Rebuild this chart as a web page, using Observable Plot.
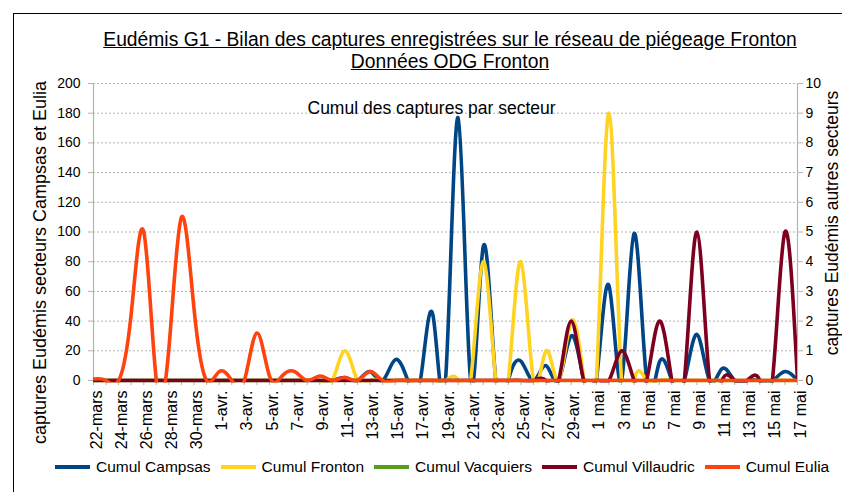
<!DOCTYPE html>
<html><head><meta charset="utf-8">
<script src="https://cdn.jsdelivr.net/npm/d3@7"></script>
<script src="https://cdn.jsdelivr.net/npm/@observablehq/plot@0.6"></script>
<style>
body{margin:0;background:#fff;font-family:"Liberation Sans",Arial,sans-serif;color:#000;}
#wrap{position:relative;width:842px;height:492px;overflow:hidden;background:#fff;}
#frame{position:absolute;left:13px;top:13px;width:840px;height:500px;border:1px solid #000;box-sizing:border-box;}
#title{position:absolute;left:0;top:29px;width:900px;text-align:center;font-size:19.3px;line-height:22px;}
#title span{text-decoration:underline;}
#chart{position:absolute;left:0;top:75px;}
#legend{position:absolute;left:55px;top:458px;display:flex;align-items:center;font-size:15.5px;white-space:nowrap;}
#legend .it{display:flex;align-items:center;margin-right:10px;}
#legend .sw{display:inline-block;width:35px;height:4px;margin-right:6px;}
</style></head>
<body><div id="wrap"><div id="frame"></div>
<div id="title"><span>Eudémis G1 - Bilan des captures enregistrées sur le réseau de piégeage Fronton</span><br><span>Données ODG Fronton</span></div>
<div id="chart"></div><div id="legend"></div></div>
<script>
const dates = ["22-mars","23-mars","24-mars","25-mars","26-mars","27-mars","28-mars","29-mars","30-mars","31-mars",
"1-avr.","2-avr.","3-avr.","4-avr.","5-avr.","6-avr.","7-avr.","8-avr.","9-avr.","10-avr.",
"11-avr.","12-avr.","13-avr.","14-avr.","15-avr.","16-avr.","17-avr.","18-avr.","19-avr.","20-avr.",
"21-avr.","22-avr.","23-avr.","24-avr.","25-avr.","26-avr.","27-avr.","28-avr.","29-avr.","30-avr.",
"1 mai","2 mai","3 mai","4 mai","5 mai","6 mai","7 mai","8 mai","9 mai","10 mai",
"11 mai","12 mai","13 mai","14 mai","15 mai","16 mai","17 mai"];
const labelDates = ["22-mars","24-mars","26-mars","28-mars","30-mars","1-avr.","3-avr.","5-avr.","7-avr.","9-avr.",
"11-avr.","13-avr.","15-avr.","17-avr.","19-avr.","21-avr.","23-avr.","25-avr.","27-avr.","29-avr.",
"1 mai","3 mai","5 mai","7 mai","9 mai","11 mai","13 mai","15 mai","17 mai"];
const leftTicks = [0,20,40,60,80,100,120,140,160,180,200];
const rightTicks = [0,1,2,3,4,5,6,7,8,9,10];
const seriesNames = ["Cumul Campsas","Cumul Fronton","Cumul Vacquiers","Cumul Villaudric","Cumul Eulia"];
// left axis series
const campsas = [0,0,0,0,0,0,0,0,0,0, 0,0,0,0,0,0,0,0,0,0, 2,0,6,0,14,0,0,44,0,177, 0,90,0,0,13,0,10,0,30,0, 0,64,0,99,0,12,0,0,31,0, 8,0,0,0,0,6,0];
const eulia   = [1,0,0,45,100,0,22,110,48,0, 6,0,0,32,3,3,6,0,3,0, 2,0,6,0,0,0,0,0,0,0, 0,0,0,0,0,0,0,0,0,0, 0,0,0,0,0,0,0,0,0,0, 0,0,0,0,0,0,0];
// right axis series
const fronton    = [0,0,0,0,0,0,0,0,0,0, 0,0,0,0,0,0,0,0,0,0, 1,0,0,0,0,0,0,0,0,0, 0,4,0,0,4,0,1,0,2,0, 0,9,0,0,0,0,0,0,0,0, 0,0,0,0,0,0,0];
const vacquiers  = [0,0,0,0,0,0,0,0,0,0, 0,0,0,0,0,0,0,0,0,0, 0,0,0,0,0,0,0,0,0,0, 0,0,0,0,0,0,0,0,0,0, 0,0,0,0,0,0,0,0,0,0, 0,0,0,0,0,0,0];
const villaudric = [0,0,0,0,0,0,0,0,0,0, 0,0,0,0,0,0,0,0,0,0, 0,0,0,0,0,0,0,0,0,0, 0,0,0,0,0,0,0,0,2,0, 0,0,1,0,0,2,0,0,5,0, 0,0,0,0,0,5,0];

const colors = ["#004586","#ffd320","#579d1c","#7e0021","#ff420e"];
const ratio = 20; // right axis 0-10 maps onto left axis 0-200
const series = [
  {name: seriesNames[0], values: campsas, k: 1},
  {name: seriesNames[1], values: fronton, k: ratio},
  {name: seriesNames[2], values: vacquiers, k: ratio},
  {name: seriesNames[3], values: villaudric, k: ratio},
  {name: seriesNames[4], values: eulia, k: 1}
];
const rows = series.flatMap(s => s.values.map((v, i) => ({date: dates[i], y: v * s.k, name: s.name})));

const font = '"Liberation Sans", Arial, sans-serif';
const chart = Plot.plot({
  width: 842, height: 378,
  marginLeft: 93, marginRight: 45, marginTop: 8, marginBottom: 73,
  style: {fontFamily: font, background: "none", color: "#000", overflow: "visible"},
  x: {type: "point", domain: dates, padding: 0, axis: null},
  y: {domain: [0, 200], axis: null},
  color: {domain: seriesNames, range: colors},
  marks: [
    Plot.gridY(leftTicks.filter(d => d > 0), {stroke: "#b3b3b3", strokeOpacity: 1, strokeDasharray: "2,2"}),
    Plot.ruleX([dates[0], dates[dates.length - 1]], {stroke: "#b3b3b3", strokeWidth: 1.2}),
    Plot.ruleY([0], {stroke: "#b3b3b3", strokeWidth: 1.2}),
    Plot.axisY(leftTicks, {anchor: "left", tickSize: 5, tickPadding: 8, stroke: "#b3b3b3", fill: "#000", fontSize: 14, label: null}),
    Plot.axisY(rightTicks.map(d => d * ratio), {anchor: "right", tickSize: 5, tickPadding: 3, stroke: "#b3b3b3", fill: "#000", fontSize: 14, tickFormat: d => d / ratio, label: null}),
    Plot.axisX(dates, {anchor: "bottom", tickSize: 5, tickFormat: () => "", stroke: "#b3b3b3", label: null}),
    Plot.axisX(labelDates, {anchor: "bottom", tickSize: 0, tickPadding: 10, tickRotate: -90, fontSize: 16, fill: "#000", dx: 3, label: null}),
    Plot.line(rows, {x: "date", y: "y", z: "name", stroke: "name", curve: "natural", strokeWidth: 3.6, clip: true}),
    Plot.text(["Cumul des captures par secteur"], {frameAnchor: "top-left", dx: 214, dy: 25, textAnchor: "start", lineAnchor: "middle", fontSize: 17.5, fill: "#000"}),
    Plot.text(["captures Eudémis secteurs Campsas et Eulia"], {frameAnchor: "left", dx: -53, dy: 30.5, rotate: -90, textAnchor: "middle", lineAnchor: "middle", fontSize: 18, fill: "#000"}),
    Plot.text(["captures Eudémis autres secteurs"], {frameAnchor: "right", dx: 35, dy: -9, rotate: -90, textAnchor: "middle", lineAnchor: "middle", fontSize: 17.5, fill: "#000"})
  ]
});
chart.querySelectorAll("clipPath rect").forEach(r => {
  const h = +r.getAttribute("height");
  r.setAttribute("height", h + 2.5);
});
document.getElementById("chart").appendChild(chart);

const legend = document.getElementById("legend");
seriesNames.forEach((n, i) => {
  const it = document.createElement("div");
  it.className = "it";
  const sw = document.createElement("span");
  sw.className = "sw";
  sw.style.background = colors[i];
  const t = document.createElement("span");
  t.textContent = n;
  it.appendChild(sw); it.appendChild(t);
  legend.appendChild(it);
});
</script></body></html>
